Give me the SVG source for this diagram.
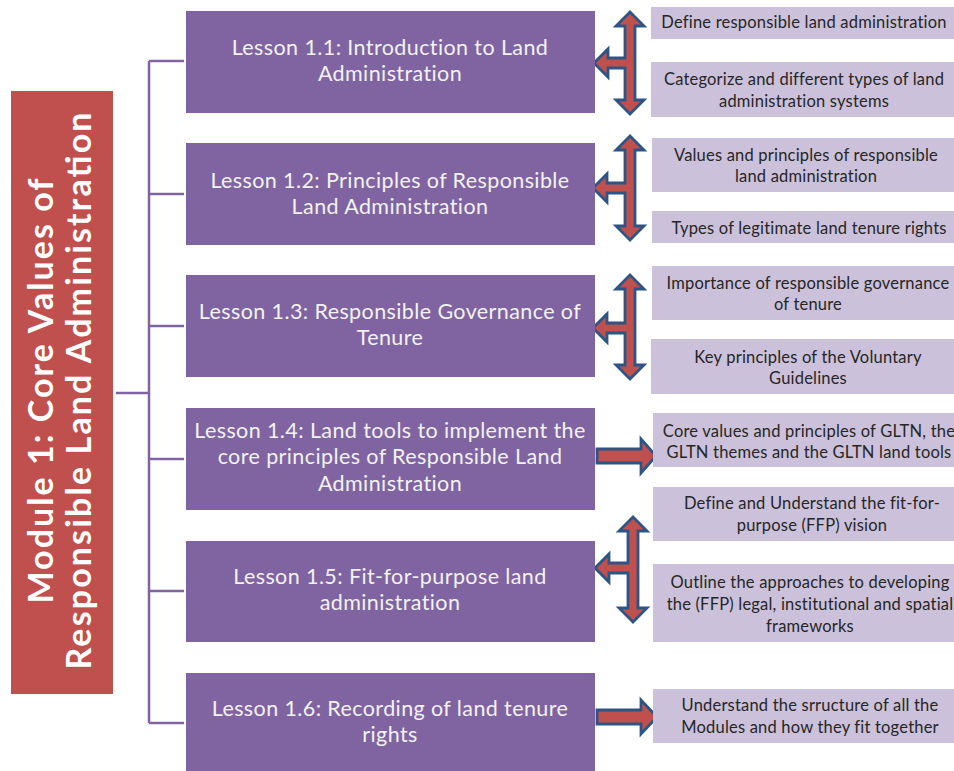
<svg xmlns="http://www.w3.org/2000/svg" width="954" height="771" viewBox="0 0 954 771">
<style>
.lesson{fill:#8064A2;}
.obj{fill:#CCC1DA;}
.lt{font-family:Lato,"Liberation Sans",sans-serif;font-size:21.5px;letter-spacing:0.4px;fill:#F2F2F2;text-anchor:middle;}
.ot{font-family:Lato,"Liberation Sans",sans-serif;font-size:16.5px;letter-spacing:0.2px;fill:#262626;text-anchor:middle;}
.mt{font-family:Lato,"Liberation Sans",sans-serif;font-size:34px;font-weight:bold;fill:#FFFFFF;text-anchor:middle;}
.br{fill:none;stroke:#8064A2;stroke-width:2.5;}
.arr{fill:#C0504D;stroke:#2C5585;stroke-width:2.8;stroke-linejoin:miter;}
</style>
<rect width="954" height="771" fill="#FFFFFF"/>

<g id="module">
<rect x="11" y="91" width="102" height="603" fill="#C0504D"/>
<text class="mt" transform="translate(53,391) rotate(-90)" textLength="425">Module 1: Core Values of</text>
<text class="mt" transform="translate(91,391) rotate(-90)" textLength="557">Responsible Land Administration</text>
</g>

<g id="connectors">
<path class="br" d="M116,393 H149 M149,61 V723 M149,61 H184 M149,194 H184 M149,326 H184 M149,459 H184 M149,591 H184 M149,723 H184"/>
<path class="arr" d="M630,12 L644,26 L635,26 L635,100 L644,100 L630,114 L616,100 L625,100 L625,68 L608,68 L608,77 L594,63 L608,49 L608,58 L625,58 L625,26 L616,26 Z"/>
<path class="arr" d="M630,136 L644,150 L635,150 L635,226 L644,226 L630,240 L616,226 L625,226 L625,193 L607,193 L607,202 L593,188 L607,174 L607,183 L625,183 L625,150 L616,150 Z"/>
<path class="arr" d="M630,275 L644,289 L635,289 L635,365 L644,365 L630,379 L616,365 L625,365 L625,333 L607,333 L607,342 L593,328 L607,314 L607,323 L625,323 L625,289 L616,289 Z"/>
<path class="arr" d="M597,449 L641,449 L641,439 L656,456 L641,473 L641,463 L597,463 Z"/>
<path class="arr" d="M633,517 L647,531 L638,531 L638,608 L647,608 L633,622 L619,608 L628,608 L628,573 L609,573 L609,582 L595,568 L609,554 L609,563 L628,563 L628,531 L619,531 Z"/>
<path class="arr" d="M597,710 L641,710 L641,700 L657,717 L641,734 L641,724 L597,724 Z"/>
</g>

<g id="lesson1">
<rect class="lesson" x="186" y="11" width="409" height="102"/>
<text class="lt" x="390" y="55">Lesson 1.1: Introduction to Land</text>
<text class="lt" x="390" y="81">Administration</text>
</g>
<g id="lesson2">
<rect class="lesson" x="186" y="143" width="409" height="102"/>
<text class="lt" x="390" y="188">Lesson 1.2: Principles of Responsible</text>
<text class="lt" x="390" y="214">Land Administration</text>
</g>
<g id="lesson3">
<rect class="lesson" x="186" y="275" width="409" height="102"/>
<text class="lt" x="390" y="319">Lesson 1.3: Responsible Governance of</text>
<text class="lt" x="390" y="345">Tenure</text>
</g>
<g id="lesson4">
<rect class="lesson" x="186" y="408" width="409" height="102"/>
<text class="lt" x="390" y="438">Lesson 1.4: Land tools to implement the</text>
<text class="lt" x="390" y="464">core principles of Responsible Land</text>
<text class="lt" x="390" y="491">Administration</text>
</g>
<g id="lesson5">
<rect class="lesson" x="186" y="541" width="409" height="101"/>
<text class="lt" x="390" y="584">Lesson 1.5: Fit-for-purpose land</text>
<text class="lt" x="390" y="610">administration</text>
</g>
<g id="lesson6">
<rect class="lesson" x="186" y="673" width="409" height="98"/>
<text class="lt" x="390" y="716">Lesson 1.6: Recording of land tenure</text>
<text class="lt" x="390" y="742">rights</text>
</g>

<g id="obj1a">
<rect class="obj" x="651" y="7" width="303" height="32"/>
<text class="ot" x="804" y="28">Define responsible land administration</text>
</g>
<g id="obj1b">
<rect class="obj" x="651" y="62" width="303" height="55"/>
<text class="ot" x="804" y="85">Categorize and different types of land</text>
<text class="ot" x="804" y="107">administration systems</text>
</g>
<g id="obj2a">
<rect class="obj" x="652" y="138" width="302" height="54"/>
<text class="ot" x="806" y="161">Values and principles of responsible</text>
<text class="ot" x="806" y="182">land administration</text>
</g>
<g id="obj2b">
<rect class="obj" x="652" y="211" width="302" height="32"/>
<text class="ot" x="809" y="234">Types of legitimate land tenure rights</text>
</g>
<g id="obj3a">
<rect class="obj" x="652" y="266" width="302" height="54"/>
<text class="ot" x="808" y="289">Importance of responsible governance</text>
<text class="ot" x="808" y="310">of tenure</text>
</g>
<g id="obj3b">
<rect class="obj" x="651" y="339" width="303" height="55"/>
<text class="ot" x="808" y="363">Key principles of the Voluntary</text>
<text class="ot" x="808" y="384">Guidelines</text>
</g>
<g id="obj4">
<rect class="obj" x="653" y="413" width="301" height="54"/>
<text class="ot" x="809" y="437">Core values and principles of GLTN, the</text>
<text class="ot" x="809" y="458">GLTN themes and the GLTN land tools</text>
</g>
<g id="obj5a">
<rect class="obj" x="653" y="487" width="301" height="54"/>
<text class="ot" x="812" y="509">Define and Understand the fit-for-</text>
<text class="ot" x="812" y="531">purpose (FFP) vision</text>
</g>
<g id="obj5b">
<rect class="obj" x="653" y="564" width="301" height="78"/>
<text class="ot" x="810" y="588">Outline the approaches to developing</text>
<text class="ot" x="810" y="610">the (FFP) legal, institutional and spatial</text>
<text class="ot" x="810" y="632">frameworks</text>
</g>
<g id="obj6">
<rect class="obj" x="653" y="689" width="301" height="54"/>
<text class="ot" x="810" y="711">Understand the srructure of all the</text>
<text class="ot" x="810" y="733">Modules and how they fit together</text>
</g>
</svg>
